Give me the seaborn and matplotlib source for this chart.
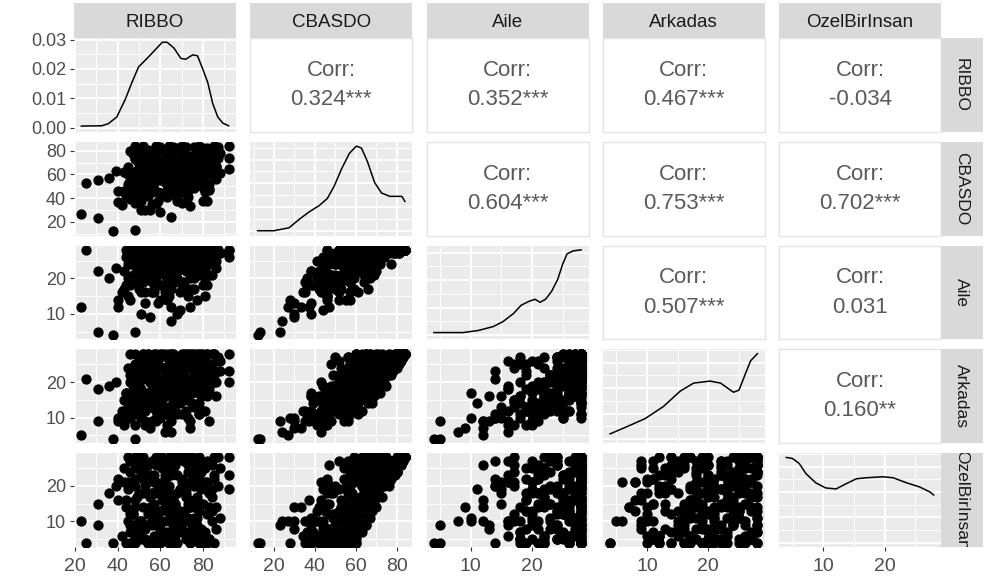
import matplotlib
matplotlib.use("Agg")
import matplotlib.pyplot as plt
import numpy as np
import pandas as pd
import seaborn as sns
from matplotlib.ticker import MaxNLocator, AutoMinorLocator, FormatStrFormatter

variables = ["RIBBO", "CBASDO", "Aile", "Arkadas", "OzelBirInsan"]

# respondents: outliers, main body, extra fillers
ribbo = [23, 31, 38, 25, 31, 36, 39, 48, 51, 65, 74, 40, 40, 43, 92, 92, 92, 85, 84, 88,
         42, 43, 44, 44, 45, 46, 46, 47, 47, 48, 48, 49, 49, 50, 50, 51, 51, 52, 52, 53,
         53, 54, 54, 55, 55, 56, 56, 57, 57, 58, 58, 59, 59, 60, 60, 60, 61, 61, 62, 62,
         62, 63, 63, 63, 64, 64, 64, 65, 65, 66, 66, 66, 67, 67, 68, 68, 69, 69, 70, 70,
         71, 71, 72, 72, 73, 73, 74, 74, 75, 75, 75, 76, 76, 76, 77, 77, 77, 78, 78, 78,
         79, 79, 80, 80, 81, 81, 82, 82, 83, 84, 84, 85, 86, 86, 87, 88,
         55, 60, 65, 58, 62, 70, 52, 57, 67, 73, 80, 45, 50, 68, 63, 54, 78, 61, 56, 74,
         66, 59, 83, 48, 58, 66, 72, 50, 62, 78, 54, 69, 46, 81,
         45, 47, 49, 51, 53, 55, 57, 59, 61, 63, 65, 67, 69, 71, 73, 75, 77, 79, 81, 83, 85,
         46, 48, 50, 52, 54, 56, 58, 60, 62, 64, 66, 68, 70, 72, 74, 76, 78, 80, 82, 84, 86,
         44, 46, 48, 50, 52, 54, 56, 58, 60, 62, 64, 66, 68, 70, 72, 74, 76, 78, 80, 82, 84,
         47, 49, 51, 53, 55, 57, 59, 61, 63, 65, 67, 69, 71, 73, 75, 77, 79, 81, 83, 85, 87,
         52, 64, 70, 76, 60, 82, 48, 68,
         45, 46, 48, 49, 51, 52, 54, 55, 57, 58, 60, 61, 63, 64, 66, 67, 69, 70, 72, 73, 75,
         76, 78, 79, 81, 82, 84, 50, 53, 56, 59, 62, 65, 68, 71, 74, 77, 80, 83, 47, 57, 67]
aile = [12, 5, 4, 28, 22, 20, 23, 5, 10, 8, 12, 14, 12, 17, 28, 28, 26, 28, 28, 27,
        16, 22, 18, 26, 20, 24, 14, 28, 21, 25, 19, 27, 23, 28, 17, 26, 22, 28, 24, 13,
        27, 20, 28, 25, 21, 28, 16, 26, 23, 28, 19, 27, 24, 28, 22, 26, 28, 18, 25, 28,
        21, 27, 24, 28, 15, 28, 26, 23, 28, 20, 27, 28, 25, 28, 22, 28, 26, 11, 28, 24,
        27, 19, 28, 25, 28, 23, 28, 26, 21, 28, 27, 24, 28, 17, 28, 26, 22, 28, 25, 28,
        27, 23, 28, 26, 28, 20, 28, 27, 24, 28, 26, 28, 25, 28, 28, 27,
        9, 14, 12, 28, 16, 18, 28, 28, 28, 15, 22, 28, 24, 10, 20, 26, 28, 28, 21, 20,
        24, 13, 28, 28, 28, 28, 28, 28, 28, 28, 27, 28, 28, 28,
        24, 28, 22, 28, 26, 28, 20, 28, 25, 27, 28, 23, 28, 26, 28, 21, 28, 27, 28, 25, 28,
        28, 20, 27, 24, 28, 16, 26, 28, 22, 28, 19, 27, 28, 24, 28, 26, 21, 28, 27, 28, 23,
        28, 25, 28, 21, 27, 28, 24, 28, 18, 28, 26, 28, 22, 28, 27, 25, 28, 28, 24, 28, 26,
        27, 28, 19, 28, 24, 28, 26, 28, 21, 28, 28, 25, 28, 17, 28, 27, 28, 22, 28, 26, 28,
        28, 28, 28, 28, 28, 28, 28, 28,
        15, 18, 21, 24, 16, 19, 22, 25, 17, 20, 23, 26, 14, 18, 21, 24, 16, 19, 22, 25, 17,
        20, 23, 26, 15, 18, 21, 24, 16, 19, 22, 25, 17, 20, 23, 26, 14, 18, 21, 24, 16, 19]
arkadas = [5, 9, 4, 21, 18, 19, 20, 4, 10, 6, 7, 10, 9, 8, 28, 23, 20, 28, 20, 26,
           12, 15, 10, 17, 13, 22, 11, 16, 19, 14, 8, 20, 12, 23, 15, 18, 11, 21, 16, 9,
           24, 17, 14, 20, 13, 26, 18, 15, 22, 19, 12, 25, 17, 21, 14, 28, 18, 20, 23, 16,
           11, 27, 19, 22, 13, 25, 17, 21, 28, 15, 24, 19, 12, 26, 20, 23, 16, 14, 27, 18,
           22, 25, 20, 28, 15, 21, 24, 19, 26, 28, 17, 23, 21, 13, 25, 28, 18, 20, 24, 27,
           16, 22, 28, 19, 23, 26, 21, 25, 18, 28, 24, 22, 27, 20, 26, 23,
           7, 10, 9, 10, 6, 11, 27, 28, 14, 16, 12, 24, 26, 17, 8, 22, 11, 24, 25, 9,
           27, 16, 17, 20, 28, 28, 27, 26, 28, 28, 28, 25, 28, 27,
           14, 22, 16, 24, 12, 26, 18, 21, 15, 27, 23, 17, 25, 20, 28, 19, 24, 16, 26, 22, 28,
           20, 11, 23, 15, 28, 9, 21, 17, 24, 13, 18, 26, 22, 12, 27, 25, 14, 19, 28, 23, 16,
           17, 10, 25, 19, 28, 14, 27, 23, 16, 21, 12, 28, 20, 25, 18, 28, 22, 11, 27, 24, 21,
           24, 18, 13, 27, 20, 25, 16, 28, 11, 22, 26, 19, 28, 15, 21, 23, 28, 17, 25, 20, 27,
           28, 28, 28, 28, 27, 28, 28, 26,
           10, 14, 18, 22, 26, 12, 16, 20, 24, 9, 13, 17, 21, 25, 11, 15, 19, 23, 27, 10, 14,
           18, 22, 26, 12, 16, 20, 24, 8, 13, 17, 21, 25, 11, 15, 19, 23, 27, 9, 14, 18, 22]
ozel = [10, 9, 4, 4, 15, 18, 20, 4, 10, 10, 14, 22, 16, 21, 28, 23, 19, 28, 19, 25,
        6, 25, 14, 4, 19, 9, 27, 12, 4, 22, 16, 7, 28, 18, 10, 24, 5, 14, 26, 8,
        20, 12, 4, 17, 23, 9, 27, 6, 15, 21, 4, 11, 28, 8, 19, 13, 25, 5, 16, 10,
        22, 7, 26, 14, 18, 4, 20, 11, 24, 9, 17, 28, 6, 15, 23, 4, 12, 19, 21, 8,
        27, 13, 5, 18, 24, 10, 16, 4, 22, 9, 28, 14, 6, 20, 25, 11, 17, 4, 23, 13,
        8, 19, 26, 15, 7, 21, 12, 27, 5, 17, 10, 23, 14, 8, 20, 11,
        14, 4, 26, 18, 21, 7, 22, 4, 26, 15, 4, 10, 27, 11, 13, 4, 22, 28, 18, 25,
        5, 9, 19, 26, 28, 27, 28, 25, 23, 28, 26, 28, 24, 25,
        28, 27, 25, 24, 23, 22, 21, 19, 18, 17, 16, 15, 13, 12, 11, 10, 9, 7, 6, 5, 4,
        4, 5, 6, 8, 9, 10, 11, 13, 14, 15, 16, 18, 19, 20, 21, 23, 24, 25, 26, 27, 28,
        16, 12, 20, 8, 24, 4, 18, 26, 10, 22, 6, 14, 28, 11, 19, 7, 25, 15, 5, 21, 13,
        9, 17, 25, 5, 13, 21, 27, 7, 15, 23, 4, 12, 20, 26, 8, 16, 24, 6, 14, 22, 28,
        28, 28, 28, 27, 28, 26, 28, 28,
        21, 7, 14, 26, 10, 18, 4, 23, 12, 27, 8, 16, 20, 5, 25, 13, 9, 22, 17, 6, 28,
        11, 24, 15, 19, 4, 26, 9, 21, 13, 6, 17, 24, 10, 27, 14, 20, 5, 18, 12, 23, 8]
cbasdo = [27, 23, 12, 53, 55, 57, 63, 13, 30, 24, 33, 46, 37, 46, 84, 74, 65, 84, 67, 78,
          34, 62, 42, 47, 52, 55, 52, 56, 44, 61, 43, 54, 63, 69, 42, 68, 38, 63, 66, 30,
          71, 49, 46, 62, 57, 63, 61, 47, 60, 68, 35, 63, 69, 57, 55, 67, 71, 43, 64, 54,
          54, 61, 69, 64, 46, 57, 63, 55, 80, 44, 68, 75, 43, 69, 65, 55, 54, 44, 76, 50,
          76, 57, 53, 71, 67, 54, 68, 49, 69, 65, 72, 61, 55, 50, 78, 65, 57, 52, 72, 68,
          51, 64, 82, 60, 58, 67, 61, 79, 47, 73, 60, 73, 66, 56, 74, 61,
          30, 28, 47, 56, 43, 36, 77, 60, 68, 46, 38, 62, 77, 38, 41, 52, 61, 80, 64, 54,
          56, 38, 64, 74, 84, 83, 83, 79, 79, 84, 81, 81, 80, 80,
          66, 77, 63, 76, 61, 76, 59, 68, 58, 71, 67, 55, 66, 58, 67, 50, 61, 50, 60, 52, 60,
          52, 36, 56, 47, 65, 35, 58, 58, 60, 56, 53, 71, 69, 56, 76, 74, 59, 72, 81, 78, 67,
          61, 47, 73, 48, 79, 46, 69, 77, 44, 71, 44, 70, 70, 64, 64, 60, 75, 54, 56, 73, 60,
          60, 63, 57, 60, 57, 74, 69, 63, 47, 73, 58, 56, 76, 58, 57, 66, 80, 45, 67, 68, 83,
          84, 84, 84, 83, 83, 82, 84, 82,
          46, 39, 53, 72, 52, 49, 42, 68, 53, 56, 44, 59, 55, 48, 57, 52, 44, 64, 66, 41, 59,
          49, 69, 67, 46, 38, 67, 57, 45, 45, 45, 63, 66, 41, 65, 59, 57, 50, 48, 50, 57, 49]

# density curves
ribbo_dx = [23, 32.5, 35.6, 39.6, 43.5, 46.7, 49.8, 53.8, 57.7, 60.9, 63.2, 66.4, 69.6,
            71.9, 75.1, 77.4, 79.8, 82.2, 84.5, 86.9, 89.3, 92]
ribbo_dy = [0.0005, 0.0006, 0.0013, 0.0036, 0.0095, 0.0154, 0.0207, 0.0236, 0.0266, 0.0291,
            0.0291, 0.0271, 0.0236, 0.0233, 0.0248, 0.0245, 0.0201, 0.0154, 0.0083, 0.0036,
            0.0015, 0.0006]
cbasdo_dx = [12, 20, 27.4, 32.3, 37.2, 42.1, 46.1, 49.5, 53, 56.9, 60.3, 62.8, 65.7,
             69.2, 72.6, 76.6, 80.5, 82.5, 84]
cbasdo_dy = [0.0002, 0.0002, 0.0012, 0.0040, 0.0065, 0.0086, 0.0110, 0.0152, 0.0208, 0.0261,
             0.0285, 0.0278, 0.0233, 0.0163, 0.0128, 0.0117, 0.0117, 0.0117, 0.0100]
aile_dx = [4, 8.7, 11.2, 13.7, 15.3, 17, 18.2, 19.5, 20.5, 21.3, 22.2, 23.2, 24.2, 25,
           25.7, 26.7, 28]
aile_dy = [0.0028, 0.0028, 0.0050, 0.0094, 0.0149, 0.0237, 0.0325, 0.0369, 0.0391, 0.0358,
           0.0391, 0.0479, 0.0611, 0.0776, 0.0886, 0.0919, 0.0930]
arkadas_dx = [4, 6.7, 9.7, 12.7, 15.4, 17.6, 20.3, 22.0, 24.1, 25.0, 26.1, 26.9, 28.0]
arkadas_dy = [0.005, 0.012, 0.020, 0.032, 0.047, 0.055, 0.057, 0.055, 0.046, 0.048, 0.065,
              0.077, 0.084]
ozel_dx = [4, 5.0, 6.1, 7.2, 8.8, 10.4, 12.1, 13.7, 15.4, 17.0, 19.7, 21.4, 23.6, 25.7,
           27.4, 28.0]
ozel_dy = [0.084, 0.083, 0.078, 0.068, 0.059, 0.054, 0.053, 0.058, 0.063, 0.064, 0.065,
           0.064, 0.059, 0.055, 0.050, 0.047]

corr_labels = ["0.324***", "0.352***", "0.467***", "-0.034",
               "0.604***", "0.753***", "0.702***",
               "0.507***", "0.031",
               "0.160**"]

breaks = [[20, 40, 60, 80], [20, 40, 60, 80], [10, 20], [10, 20], [10, 20]]
minor_breaks = [[30, 50, 70, 90], [10, 30, 50, 70], [5, 15, 25], [5, 15, 25], [5, 15, 25]]
dens_breaks = [0.00, 0.01, 0.02, 0.03]
dens_minor = [0.005, 0.015, 0.025]

df = pd.DataFrame({"RIBBO": ribbo, "CBASDO": cbasdo, "Aile": aile,
                   "Arkadas": arkadas, "OzelBirInsan": ozel})
dens = [(ribbo_dx, ribbo_dy), (cbasdo_dx, cbasdo_dy), (aile_dx, aile_dy),
        (arkadas_dx, arkadas_dy), (ozel_dx, ozel_dy)]

plt.rcParams["font.family"] = ["Liberation Sans", "DejaVu Sans"]

W, H = 986, 583
left0, pw, gapx = 74, 162, 14.25
top0, ph, gapy = 38, 93.8, 10


def rect(x, y, w, h):
    return [x / W, 1 - (y + h) / H, w / W, h / H]


def lims(values):
    lo, hi = min(values), max(values)
    pad = 0.05 * (hi - lo)
    return lo - pad, hi + pad


xlims = [lims(df[v]) for v in variables]

fig = plt.figure(figsize=(W / 100, H / 100), dpi=100)

corr_iter = iter(corr_labels)
n = len(variables)
for i in range(n):
    for j in range(n):
        x0 = left0 + j * (pw + gapx)
        y0 = top0 + i * (ph + gapy)
        ax = fig.add_axes(rect(x0, y0, pw, ph))

        if i < j:
            ax.set_facecolor("white")
            for s in ax.spines.values():
                s.set_color("#E4E4E4")
                s.set_linewidth(1.0)
            ax.set_xticks([])
            ax.set_yticks([])
            ax.text(0.5, 0.655, "Corr:", transform=ax.transAxes, ha="center",
                    va="center", fontsize=16, color="#5A5A5A")
            ax.text(0.5, 0.345, next(corr_iter), transform=ax.transAxes, ha="center",
                    va="center", fontsize=16, color="#5A5A5A")
            continue

        ax.set_facecolor("#EBEBEB")
        for s in ax.spines.values():
            s.set_visible(False)

        if i == j:
            dx, dy = dens[i]
            sns.lineplot(x=dx, y=dy, ax=ax, color="black", linewidth=1.1)
            top = max(dy)
            ax.set_ylim(-0.05 * top, 1.05 * top)
            if i == 0:
                ax.set_yticks(dens_breaks)
                ax.set_yticks(dens_minor, minor=True)
                ax.yaxis.set_major_formatter(FormatStrFormatter("%.2f"))
            else:
                ax.yaxis.set_major_locator(MaxNLocator(nbins=4))
                ax.yaxis.set_minor_locator(AutoMinorLocator(2))
        else:
            sns.scatterplot(data=df, x=variables[j], y=variables[i], ax=ax,
                            color="black", s=55, linewidth=0, legend=False)
            ax.set_ylim(xlims[i])
            ax.set_yticks(breaks[i])
            ax.set_yticks(minor_breaks[i], minor=True)

        ax.set_xlim(xlims[j])
        ax.set_xticks(breaks[j])
        ax.set_xticks(minor_breaks[j], minor=True)
        ax.set_xlabel("")
        ax.set_ylabel("")
        ax.set_axisbelow(True)
        ax.grid(which="major", color="white", linewidth=1.4)
        ax.grid(which="minor", color="white", linewidth=0.7)
        ax.tick_params(which="minor", length=0)
        ax.tick_params(axis="y", which="major", length=2.75, width=0.8, color="#333333",
                       labelcolor="#4D4D4D", labelsize=13, pad=3,
                       left=(j == 0), labelleft=(j == 0))
        ax.tick_params(axis="x", which="major", length=2.75, width=0.8, color="#333333",
                       labelcolor="#4D4D4D", labelsize=14, pad=5,
                       bottom=(i == n - 1), labelbottom=(i == n - 1))

# column strips on top
for j, name in enumerate(variables):
    x0 = left0 + j * (pw + gapx)
    sax = fig.add_axes(rect(x0, 3, pw, top0 - 3))
    sax.set_facecolor("#D9D9D9")
    sax.set_xticks([])
    sax.set_yticks([])
    for s in sax.spines.values():
        s.set_visible(False)
    sax.text(0.5, 0.45, name, transform=sax.transAxes, ha="center", va="center",
             fontsize=13.5, color="#1A1A1A", clip_on=True)

# row strips on the right
for i, name in enumerate(variables):
    y0 = top0 + i * (ph + gapy)
    sax = fig.add_axes(rect(left0 + 5 * pw + 4 * gapx, y0, 42, ph))
    sax.set_facecolor("#D9D9D9")
    sax.set_xticks([])
    sax.set_yticks([])
    for s in sax.spines.values():
        s.set_visible(False)
    sax.text(0.48, 0.5, name, transform=sax.transAxes, ha="center", va="center",
             fontsize=12.5, color="#1A1A1A", rotation=-90, clip_on=True)

fig.savefig("out.png", dpi=100)
